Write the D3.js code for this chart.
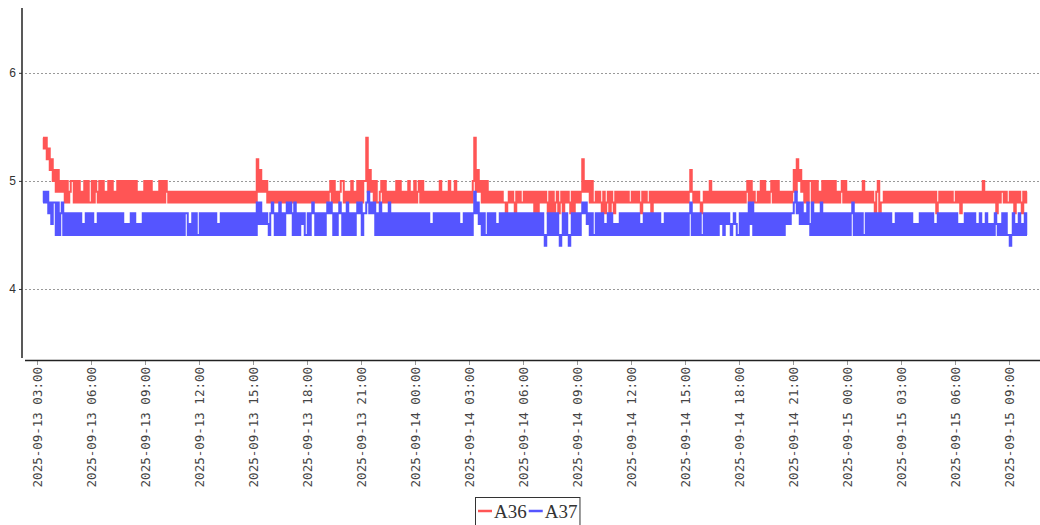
<!DOCTYPE html>
<html>
<head>
<meta charset="utf-8">
<script src="https://cdn.jsdelivr.net/npm/d3@7"></script>
<style>
  body { margin: 0; background: #fff; }
  svg { display: block; }
</style>
</head>
<body>
<svg id="chart" width="1040" height="525"></svg>
<script>
// readings every 5 minutes, one string per clock hour starting 2025-09-13 03:00 (UTC)
// each char is tenths above 4.0 in hex: 5 -> 4.5, 9 -> 4.9, a -> 5.0, e -> 5.4, "." = no reading
const seriesNames = ["A36", "A37"];
const seriesColors = ["#ff5555", "#5555ff"];
const firstHour = "2025-09-13T03:00:00Z";
const xDomain = ["2025-09-13T02:20:00Z", "2025-09-15T10:43:20Z"];
const yTicks = [4, 5, 6];

const a36Rows = [
  "....edecdbca", "b9b9a9a8a89a", "a8a8a898a8a8", "8a8a98a8a898", "a8a898a8a8a8", "a8a8a8a89898",
  "a8a8a89898a8", "a8a989898989", "898989898989", "898989898989", "898989898989", "898989898989",
  "898c9b9a9a89", "898989898989", "898989898989", "898989898989", "8989a8a8989a", "a89898a898a8",
  "a8aae9b9a8a8", "89a8a8989898", "a8a89898a898", "a89a8a898989", "89898a89898a", "898a89898989",
  "898ae9b9a8a8", "a89898989898", "878989879898", "898989897979", "898987979789", "789798987979",
  "8989c9a9a8a8", "898987978979", "879898989898", "898989879898", "897989898989", "898989898989",
  "8989b9898987", "89898a898989", "898989898989", "898989a8a898", "898a8a8989a8", "a8a898989898",
  "9b9cab9a8a8a", "a8a8a898a8a8", "a8a8a8989a8a", "89898989898a", "898989879a78", "898989898989",
  "898989898989", "898989898989", "789898989898", "898979898989", "8989898a8989", "898979899898",
  "898979898798", "9"
];

const a37Rows = [
  "....89897868", "858578575757", "575757565757", "575657575757", "575757575756", "565757565657",
  "575757575757", "575757575757", "575775657575", "575757575757", "565757575757", "575757575757",
  "575868676765", "787575857578", "787585757675", "575787575757", "578787575787", "575857575787",
  "857789787857", "585757585757", "575757575757", "575757575756", "575757575757", "575757565757",
  "575797867575", "575757565757", "575757575757", "575757575757", "575457575757", "545757545757",
  "575787867575", "575757565757", "565657575757", "575757565757", "575757575657", "575757575757",
  "575785757575", "575757575757", "675767656765", "575757586857", "575757575757", "575757576767",
  "789786867686", "585757585757", "575757575757", "575785757575", "575757575757", "575757565757",
  "575757575656", "575757575756", "575757575757", "575656575757", "575657565756", "565765657575",
  "545756575657", "5"
];

const t0 = Date.parse(firstHour);
const toPoints = rows => rows.flatMap((row, h) =>
  Array.from(row, (c, i) => ({
    t: new Date(t0 + h * 3600e3 + i * 300e3),
    v: c === "." ? null : 4 + parseInt(c, 16) / 10
  })));

const series = [toPoints(a36Rows), toPoints(a37Rows)];

const svg = d3.select("#chart");

const x = d3.scaleUtc()
  .domain(xDomain.map(d => new Date(d)))
  .range([25, 1040]);

const y = d3.scaleLinear()
  .domain([10 / 3, 6.6])
  .range([361, 8]);

// dotted grid
svg.append("g")
  .selectAll("line")
  .data(yTicks)
  .join("line")
  .attr("x1", 25)
  .attr("x2", 1040)
  .attr("y1", d => Math.round(y(d)) + 0.5)
  .attr("y2", d => Math.round(y(d)) + 0.5)
  .attr("stroke", "#999")
  .attr("stroke-dasharray", "2,2");

// lines (5-min readings are denser than the pixels, so a step keeps the band solid)
const line = d3.line()
  .defined(d => d.v !== null)
  .curve(d3.curveStep)
  .x(d => x(d.t))
  .y(d => y(d.v));

svg.append("g")
  .selectAll("path")
  .data(series)
  .join("path")
  .attr("fill", "none")
  .attr("stroke", (d, i) => seriesColors[i])
  .attr("stroke-width", 2)
  .attr("d", line);

// y axis
const yAxis = svg.append("g")
  .attr("transform", "translate(22,0)")
  .call(d3.axisLeft(y).tickValues(yTicks).tickSize(3).tickFormat(d3.format("d")));
yAxis.select(".domain").remove();
yAxis.selectAll(".tick line").attr("stroke", "#333");
yAxis.selectAll(".tick text")
  .attr("x", -6)
  .attr("fill", "#333")
  .style("font", "12px 'Liberation Sans', sans-serif");
svg.append("line")
  .attr("x1", 22).attr("x2", 22)
  .attr("y1", 8).attr("y2", 358)
  .attr("stroke", "#222")
  .attr("stroke-width", 1.5);

// x axis
const xAxis = svg.append("g")
  .attr("transform", "translate(0,361)")
  .call(d3.axisBottom(x)
    .ticks(d3.utcHour.every(3))
    .tickSize(4)
    .tickFormat(d3.utcFormat("%Y-%m-%d %H:%M")));
xAxis.select(".domain").remove();
xAxis.selectAll(".tick line").attr("stroke", "#999");
xAxis.selectAll(".tick text")
  .attr("transform", "rotate(-90)")
  .attr("text-anchor", "end")
  .attr("x", -6)
  .attr("y", 0)
  .attr("dy", "0.35em")
  .attr("fill", "#444")
  .style("font", "12.5px 'DejaVu Sans Mono', monospace");
svg.append("line")
  .attr("x1", 25).attr("x2", 1040)
  .attr("y1", 360.5).attr("y2", 360.5)
  .attr("stroke", "#222")
  .attr("stroke-width", 1.5);

// legend
const legend = svg.append("g");
const box = legend.append("rect")
  .attr("x", 475.5).attr("y", 497.5)
  .attr("width", 107).attr("height", 30)
  .attr("fill", "#fff")
  .attr("stroke", "#333");
let lx = 478;
seriesNames.forEach((name, i) => {
  legend.append("line")
    .attr("x1", lx).attr("x2", lx + 14)
    .attr("y1", 511).attr("y2", 511)
    .attr("stroke", seriesColors[i])
    .attr("stroke-width", 2.5);
  const txt = legend.append("text")
    .attr("x", lx + 16)
    .attr("y", 518)
    .attr("fill", "#333")
    .style("font", "19px 'Liberation Serif', serif")
    .text(name);
  lx += 16 + txt.node().getComputedTextLength() + 2;
});
box.attr("width", lx - 475);
</script>
</body>
</html>
